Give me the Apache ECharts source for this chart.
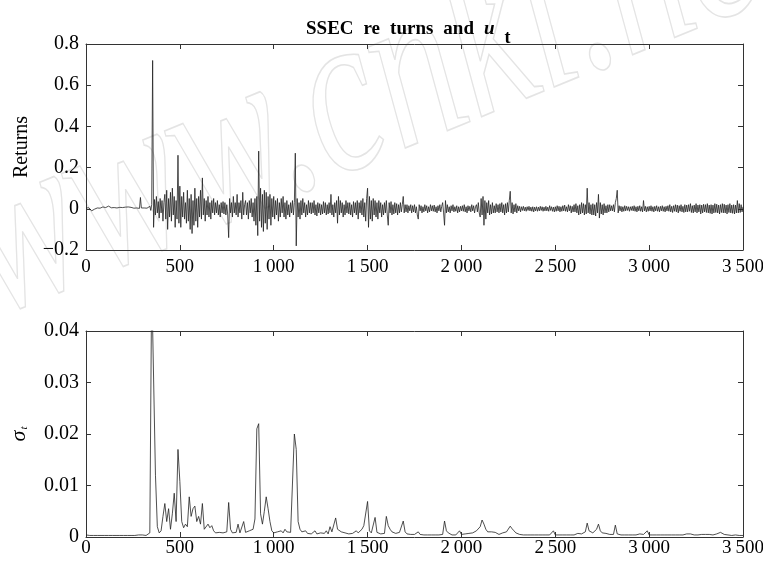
<!DOCTYPE html>
<html>
<head>
<meta charset="utf-8">
<script src="https://cdn.jsdelivr.net/npm/echarts@6/dist/echarts.min.js"></script>
<style>html,body{margin:0;padding:0;background:#fff}#c{width:763px;height:566px}</style>
</head>
<body>
<div id="c"></div>
<script>
// sample spacing (days) of the two series
const retStep = 5;
const sigStep = 10;
const xTickLabels = ['0', '500', '1\u2009000', '1\u2009500', '2\u2009000', '2\u2009500', '3\u2009000', '3\u2009500'];
const retTickLabels = ['\u22120.2', '0', '0.2', '0.4', '0.6', '0.8'];
const sigTickLabels = ['0', '0.01', '0.02', '0.03', '0.04'];

// SSEC returns, sampled every 5 days (0..3500)
const returns = [
  0.004, 0.006, 0.002, 0.005, 0.001, -0.004, -0.010, -0.013, -0.006, -0.002,
  0.003, 0.001, 0.004, 0.002, 0.006, 0.003, 0.008, 0.005, 0.009, 0.007,
  0.011, 0.006, 0.004, 0.009, 0.013, 0.007, 0.010, 0.005, 0.012, 0.008,
  0.006, 0.011, 0.009, 0.004, 0.010, 0.012, 0.007, 0.009, 0.011, 0.006,
  0.009, 0.012, 0.008, 0.006, 0.011, 0.009, 0.005, 0.010, 0.007, 0.004,
  0.006, 0.003, 0.005, 0.002, 0.004, 0.003, 0.006, 0.002, 0.055, 0.004,
  0.003, 0.002, 0.004, 0.001, 0.005, 0.003, 0.002, 0.006, 0.012, -0.008,
  0.020, 0.72, -0.09, 0.045, -0.03, 0.06, -0.02, 0.035, -0.045, 0.05,
  -0.02, 0.04, -0.06, 0.03, 0.07, -0.05, 0.09, -0.10, 0.05, -0.04,
  0.08, -0.06, 0.10, -0.03, 0.06, -0.09, 0.04, -0.05, 0.26, -0.07,
  0.11, -0.09, 0.06, -0.04, 0.08, -0.05, 0.03, -0.07, 0.09, -0.06,
  0.05, -0.10, 0.07, -0.12, 0.04, -0.08, 0.10, -0.06, 0.05, -0.09,
  0.06, -0.04, 0.09, -0.05, 0.15, -0.03, 0.05, -0.06, 0.04, -0.03,
  0.06, -0.04, 0.03, -0.05, 0.04, -0.02, 0.05, -0.03, 0.03, -0.02,
  0.04, -0.03, 0.02, -0.04, 0.03, -0.02, 0.035, -0.025, 0.03, -0.03,
  0.02, -0.03, -0.14, 0.05, -0.02, 0.03, -0.04, 0.06, -0.02, 0.03,
  -0.03, 0.07, -0.04, 0.03, -0.02, 0.04, -0.05, 0.08, -0.03, 0.02,
  0.04, -0.03, 0.03, -0.05, 0.04, -0.02, 0.05, -0.04, 0.03, -0.06,
  0.05, -0.08, 0.06, -0.13, 0.28, -0.06, 0.10, -0.09, 0.07, -0.11,
  0.09, -0.07, 0.08, -0.10, 0.06, -0.05, 0.07, -0.08, 0.05, -0.04,
  0.06, -0.05, 0.04, -0.03, 0.05, -0.06, 0.03, -0.04, 0.05, -0.02,
  0.06, -0.04, 0.03, -0.05, 0.04, -0.03, 0.02, -0.04, 0.03, -0.02,
  0.04, -0.03, 0.03, 0.27, -0.18, 0.05, -0.04, 0.03, -0.05, 0.04,
  -0.03, 0.05, -0.02, 0.03, -0.04, 0.02, -0.03, 0.04, -0.02, 0.03,
  -0.025, 0.03, -0.02, 0.04, -0.03, 0.02, -0.035, 0.03, -0.02, 0.025,
  -0.03, 0.02, -0.025, 0.035, -0.02, 0.03, -0.03, 0.02, -0.025, 0.03,
  -0.02, 0.07, -0.03, 0.02, -0.04, 0.03, -0.02, 0.04, -0.07, 0.06,
  -0.03, 0.04, -0.02, 0.03, -0.04, 0.02, -0.03, 0.04, -0.02, 0.03,
  -0.025, 0.03, -0.03, 0.02, -0.04, 0.035, -0.02, 0.03, -0.03, 0.04,
  -0.05, 0.03, -0.02, 0.04, -0.03, 0.05, -0.04, 0.03, -0.06, 0.05,
  0.10, -0.09, 0.06, -0.05, 0.04, -0.06, 0.05, -0.03, 0.04, -0.04,
  0.03, -0.05, 0.04, -0.02, 0.03, -0.04, 0.02, -0.03, 0.03, -0.02,
  0.04, -0.03, -0.08, 0.03, -0.02, 0.035, -0.03, 0.02, -0.025, 0.03,
  -0.02, 0.025, -0.03, 0.02, -0.02, 0.03, -0.015, 0.02, 0.06, -0.02,
  0.02, -0.015, 0.02, -0.02, 0.015, -0.01, 0.02, -0.02, 0.015, -0.015,
  0.02, -0.02, 0.01, -0.03, -0.05, 0.02, -0.01, 0.015, -0.02, 0.01,
  -0.015, 0.02, -0.01, 0.015, -0.02, 0.01, -0.015, 0.02, -0.01, 0.015,
  -0.012, 0.018, -0.015, 0.01, -0.02, 0.015, -0.01, 0.02, -0.015, 0.012,
  0.03, -0.02, -0.08, 0.04, -0.02, 0.02, -0.015, 0.01, -0.02, 0.015,
  -0.01, 0.02, -0.015, 0.01, -0.012, 0.015, -0.02, 0.01, -0.015, 0.012,
  -0.01, 0.015, -0.012, 0.02, -0.015, 0.01, -0.02, 0.015, -0.01, 0.012,
  -0.015, 0.02, -0.01, 0.015, -0.02, 0.01, 0.02, -0.015, 0.03, -0.02,
  -0.04, 0.05, -0.03, 0.06, -0.08, 0.04, -0.05, 0.03, -0.02, 0.04,
  -0.03, 0.02, -0.025, 0.03, -0.02, 0.015, -0.02, 0.025, -0.015, 0.02,
  -0.02, 0.025, -0.015, 0.03, -0.02, 0.02, -0.03, 0.025, -0.02, 0.03,
  -0.015, 0.04, 0.085, -0.02, 0.03, -0.025, 0.02, -0.015, 0.025, -0.02,
  0.015, -0.01, 0.012, -0.015, 0.01, -0.008, 0.012, -0.01, 0.008, -0.012,
  0.01, -0.008, 0.012, -0.01, 0.008, -0.012, 0.01, -0.015, 0.008, -0.01,
  0.01, -0.012, 0.008, -0.01, 0.012, -0.008, 0.01, -0.012, 0.008, -0.01,
  0.012, -0.01, 0.008, -0.012, 0.015, -0.008, 0.01, -0.012, 0.008, -0.015,
  0.01, -0.012, 0.015, -0.01, 0.012, -0.015, 0.01, -0.012, 0.015, -0.01,
  0.018, -0.012, 0.01, -0.015, 0.02, -0.01, 0.015, -0.02, 0.012, -0.015,
  0.02, -0.015, 0.025, -0.02, 0.015, -0.03, 0.02, -0.025, 0.03, -0.02,
  0.025, -0.03, 0.02, -0.025, 0.10, -0.02, 0.03, -0.025, 0.02, -0.03,
  0.025, -0.03, 0.02, -0.035, 0.03, -0.02, 0.07, -0.045, 0.03, -0.025,
  0.02, -0.03, 0.025, -0.02, 0.015, -0.02, 0.02, -0.015, 0.02, -0.01,
  0.015, -0.01, 0.02, -0.015, 0.03, 0.05, 0.09, -0.02, 0.015, -0.01,
  0.012, -0.015, 0.01, -0.012, 0.015, -0.01, 0.012, -0.008, 0.01, -0.012,
  0.01, -0.008, 0.012, -0.01, 0.015, -0.012, 0.01, -0.015, 0.012, -0.01,
  0.015, -0.012, 0.01, -0.015, 0.04, -0.01, 0.012, -0.015, 0.01, -0.012,
  0.012, -0.01, 0.015, -0.012, 0.01, -0.015, 0.012, -0.01, 0.015, -0.012,
  0.01, -0.015, 0.012, -0.01, 0.015, -0.012, 0.01, -0.015, 0.012, -0.01,
  0.015, -0.012, 0.02, -0.015, 0.012, -0.018, 0.015, -0.012, 0.02, -0.015,
  0.018, -0.02, 0.015, -0.012, 0.02, -0.015, 0.012, -0.018, 0.02, -0.015,
  0.018, -0.015, 0.02, -0.012, 0.025, -0.018, 0.015, -0.02, 0.018, -0.015,
  0.025, -0.02, 0.018, -0.015, 0.02, -0.025, 0.018, -0.02, 0.022, -0.015,
  0.02, -0.018, 0.025, -0.02, 0.018, -0.022, 0.02, -0.025, 0.018, -0.02,
  0.025, -0.018, 0.022, -0.02, 0.018, -0.025, 0.02, -0.018, 0.025, -0.02,
  0.022, -0.02, 0.018, -0.025, 0.02, -0.018, 0.025, -0.02, 0.018, -0.022,
  0.02, -0.025, 0.018, -0.02, 0.04, -0.02, 0.025, -0.018, 0.02, -0.015,
  0.01
];

// sigma_t, sampled every 10 days (0..3500)
const sigma = [
  0.0004, 0.0003, 0.0003, 0.0003, 0.0003, 0.0003, 0.0003, 0.0003, 0.0003, 0.0003,
  0.0003, 0.0003, 0.0003, 0.0003, 0.0003, 0.0003, 0.0003, 0.0003, 0.0003, 0.0003,
  0.0003, 0.0003, 0.0003, 0.0003, 0.0003, 0.0003, 0.0003, 0.0003, 0.0004, 0.0007,
  0.0004, 0.0003, 0.0003, 0.0005, 0.0008, 0.05, 0.05, 0.012, 0.002, 0.0008,
  0.0012, 0.004, 0.0065, 0.003, 0.0055, 0.0015, 0.0045, 0.0085, 0.003, 0.017,
  0.0108, 0.003, 0.0018, 0.0025, 0.002, 0.0078, 0.004, 0.0055, 0.006, 0.003,
  0.004, 0.0025, 0.0065, 0.0015, 0.0012, 0.0025, 0.0018, 0.0022, 0.0012, 0.0008,
  0.0006, 0.0009, 0.0012, 0.0008, 0.0007, 0.0010, 0.0067, 0.0015, 0.0008, 0.0007,
  0.0009, 0.0025, 0.0008, 0.0010, 0.0030, 0.0009, 0.0008, 0.0012, 0.0009, 0.0015,
  0.0035, 0.021, 0.022, 0.0045, 0.0025, 0.0050, 0.0078, 0.0055, 0.0030, 0.0012,
  0.0008, 0.0006, 0.0010, 0.0007, 0.0012, 0.0008, 0.0015, 0.0010, 0.0007, 0.0009,
  0.0012, 0.020, 0.017, 0.0030, 0.0015, 0.0010, 0.0008, 0.0012, 0.0007, 0.0006,
  0.0006, 0.0005, 0.0012, 0.0006, 0.0005, 0.0008, 0.0006, 0.0007, 0.0012, 0.0006,
  0.0020, 0.0010, 0.0008, 0.0037, 0.0015, 0.0012, 0.0010, 0.0013, 0.0008, 0.0007,
  0.0006, 0.0008, 0.0007, 0.0006, 0.0012, 0.0008, 0.0007, 0.0015, 0.0022, 0.0025,
  0.0069, 0.0012, 0.0008, 0.0007, 0.0038, 0.0009, 0.0007, 0.0006, 0.0008, 0.0007,
  0.0040, 0.0022, 0.0015, 0.0010, 0.0008, 0.0007, 0.0006, 0.0009, 0.0012, 0.0031,
  0.0010, 0.0006, 0.0005, 0.0005, 0.0006, 0.0005, 0.0005, 0.0010, 0.0005, 0.0004,
  0.0004, 0.0004, 0.0004, 0.0004, 0.0004, 0.0004, 0.0004, 0.0004, 0.0004, 0.0004,
  0.0005, 0.0031, 0.0012, 0.0008, 0.0005, 0.0004, 0.0004, 0.0004, 0.0004, 0.0012,
  0.0005, 0.0004, 0.0006, 0.0004, 0.0007, 0.0005, 0.0008, 0.0010, 0.0012, 0.0015,
  0.0020, 0.0033, 0.0025, 0.0015, 0.0010, 0.0008, 0.0010, 0.0007, 0.0009, 0.0006,
  0.0005, 0.0006, 0.0008, 0.0006, 0.0010, 0.0012, 0.0021, 0.0016, 0.0012, 0.0008,
  0.0006, 0.0005, 0.0004, 0.0004, 0.0004, 0.0004, 0.0005, 0.0004, 0.0004, 0.0004,
  0.0004, 0.0004, 0.0004, 0.0004, 0.0004, 0.0004, 0.0004, 0.0004, 0.0004, 0.0012,
  0.0004, 0.0004, 0.0004, 0.0004, 0.0004, 0.0004, 0.0004, 0.0004, 0.0004, 0.0004,
  0.0004, 0.0004, 0.0007, 0.0005, 0.0006, 0.0008, 0.0010, 0.0027, 0.0012, 0.0010,
  0.0008, 0.0010, 0.0015, 0.0025, 0.0012, 0.0008, 0.0010, 0.0007, 0.0006, 0.0005,
  0.0006, 0.0005, 0.0023, 0.0006, 0.0004, 0.0004, 0.0004, 0.0004, 0.0004, 0.0004,
  0.0004, 0.0004, 0.0004, 0.0004, 0.0004, 0.0006, 0.0006, 0.0005, 0.0004, 0.0012,
  0.0004, 0.0004, 0.0004, 0.0007, 0.0004, 0.0004, 0.0004, 0.0004, 0.0004, 0.0004,
  0.0004, 0.0004, 0.0004, 0.0004, 0.0004, 0.0004, 0.0004, 0.0004, 0.0004, 0.0004,
  0.0006, 0.0007, 0.0006, 0.0005, 0.0004, 0.0004, 0.0004, 0.0006, 0.0005, 0.0004,
  0.0005, 0.0006, 0.0005, 0.0004, 0.0004, 0.0004, 0.0006, 0.0008, 0.0009, 0.0007,
  0.0005, 0.0004, 0.0004, 0.0004, 0.0003, 0.0003, 0.0004, 0.0004, 0.0003, 0.0003,
  0.0003
];

const FONT = '"Liberation Serif", "DejaVu Serif", serif';
const retData = returns.map((v, i) => [i * retStep, v]);
const sigData = sigma.map((v, i) => [i * sigStep, v]);

const axisLine = { show: true, onZero: false, lineStyle: { color: '#333', width: 1 } };
const tickIn = { show: true, inside: true, length: 5, lineStyle: { color: '#333' } };
const lab = { fontFamily: FONT, fontSize: 20, color: '#000' };
const xlab = { fontFamily: FONT, fontSize: 19, color: '#000' };

function xFmt(v) { return xTickLabels[Math.round(v / 500)]; }

const chart = echarts.init(document.getElementById('c'), null, { renderer: 'canvas' });
chart.setOption({
  animation: false,
  backgroundColor: '#fff',
  title: {
    text: '{a|SSEC}{a|re}{a|turns}{a|and}{u|u}{t|t}',
    left: 301, top: 7,
    textStyle: {
      rich: {
        a: { fontFamily: FONT, fontSize: 19, fontWeight: 'bold', color: '#000', padding: [0, 10, 0, 0] },
        u: { fontFamily: FONT, fontSize: 19, fontStyle: 'italic', fontWeight: 'bold', color: '#000', padding: [0, 10, 0, 0] },
        t: { fontFamily: FONT, fontSize: 18, fontWeight: 'bold', color: '#000', padding: [17, 0, 0, 0] }
      }
    }
  },
  graphic: [{
    type: 'text', z: -10, silent: true,
    x: 16, y: 368, rotation: 0.39, scaleY: 1.4,
    style: {
      text: 'www.cnki.net', x: 0, y: 0, align: 'left', verticalAlign: 'bottom',
      font: 'italic 167px "Liberation Serif", serif', fill: 'rgba(0,0,0,0)', stroke: '#e4e4e4', lineWidth: 1.2
    }
  }],
  grid: [
    { left: 86, top: 44, width: 657, height: 206, outerBoundsMode: 'none', containLabel: false },
    { left: 86, top: 331, width: 657, height: 206, outerBoundsMode: 'none', containLabel: false }
  ],
  xAxis: [
    { gridIndex: 0, type: 'value', min: 0, max: 3500, interval: 500, axisLine, axisTick: tickIn, splitLine: { show: false },
      axisLabel: Object.assign({ formatter: xFmt, margin: 8 }, xlab) },
    { gridIndex: 0, type: 'value', position: 'top', min: 0, max: 3500, interval: 500, axisLine, axisTick: tickIn, splitLine: { show: false }, axisLabel: { show: false } },
    { gridIndex: 1, type: 'value', min: 0, max: 3500, interval: 500, axisLine, axisTick: tickIn, splitLine: { show: false },
      axisLabel: Object.assign({ formatter: xFmt, margin: 2 }, xlab) },
    { gridIndex: 1, type: 'value', position: 'top', min: 0, max: 3500, interval: 500, axisLine, axisTick: tickIn, splitLine: { show: false }, axisLabel: { show: false } }
  ],
  yAxis: [
    { gridIndex: 0, type: 'value', min: -0.2, max: 0.8, interval: 0.2, axisLine, axisTick: tickIn, splitLine: { show: false },
      axisLabel: Object.assign({ formatter: v => retTickLabels[Math.round((v + 0.2) / 0.2)], margin: 7 }, lab),
      name: 'Returns', nameLocation: 'middle', nameGap: 52, nameRotate: 90,
      nameTextStyle: { fontFamily: FONT, fontSize: 20, color: '#000' } },
    { gridIndex: 0, type: 'value', position: 'right', min: -0.2, max: 0.8, interval: 0.2, axisLine, axisTick: tickIn, splitLine: { show: false }, axisLabel: { show: false } },
    { gridIndex: 1, type: 'value', min: 0, max: 0.04, interval: 0.01, axisLine, axisTick: tickIn, splitLine: { show: false },
      axisLabel: Object.assign({ formatter: v => sigTickLabels[Math.round(v / 0.01)], margin: 7 }, lab),
      name: '{s|\u03c3}{t|t}', nameLocation: 'middle', nameGap: 56, nameRotate: 90,
      nameTextStyle: { rich: {
        s: { fontFamily: FONT, fontSize: 22, fontStyle: 'italic', color: '#000' },
        t: { fontFamily: FONT, fontSize: 11, fontStyle: 'italic', color: '#000', padding: [10, 0, 0, 1] }
      } } },
    { gridIndex: 1, type: 'value', position: 'right', min: 0, max: 0.04, interval: 0.01, axisLine, axisTick: tickIn, splitLine: { show: false }, axisLabel: { show: false } }
  ],
  series: [
    { type: 'line', xAxisIndex: 0, yAxisIndex: 0, data: retData, showSymbol: false, clip: true,
      lineStyle: { color: '#222', width: 0.8 } },
    { type: 'line', xAxisIndex: 2, yAxisIndex: 2, data: sigData, showSymbol: false, clip: true,
      lineStyle: { color: '#222', width: 0.8 } }
  ]
});
</script>
</body>
</html>
